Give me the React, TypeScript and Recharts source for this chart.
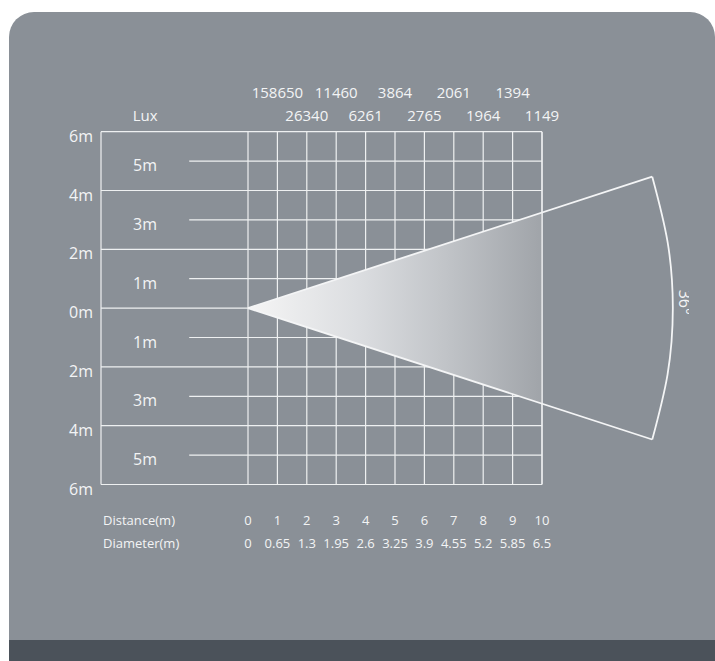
import React from 'react';
import {
  ComposedChart,
  XAxis,
  YAxis,
  Area,
  Line,
  Scatter,
  ReferenceLine,
} from 'recharts';

// ---- data ----
const distanceTicks = [0, 1, 2, 3, 4, 5, 6, 7, 8, 9, 10];
const diameterValues = [0, 0.65, 1.3, 1.95, 2.6, 3.25, 3.9, 4.55, 5.2, 5.85, 6.5];
const luxDistances = [1, 2, 3, 4, 5, 6, 7, 8, 9, 10];
const luxValues = [158650, 26340, 11460, 6261, 3864, 2765, 2061, 1964, 1394, 1149];
const heightTicks = [-6, -5, -4, -3, -2, -1, 0, 1, 2, 3, 4, 5, 6];
const evenHeights = [-6, -4, -2, 0, 2, 4, 6];
const oddHeights = [-5, -3, -1, 1, 3, 5];
const gridLeft = -5;
const oddLineStart = -2;
const gridRight = 10;
const luxTitlePos = -3.5;

const beamFill = [
  { x: 0, range: [0, 0] },
  { x: 10, range: [-3.25, 3.25] },
];
const beamUpper = [
  { x: 0, y: 0 },
  { x: 13.75, y: 4.47 },
];
const beamLower = [
  { x: 0, y: 0 },
  { x: 13.75, y: -4.47 },
];
const arcPoints = [
  { x: 13.75, y: 4.47 },
  { x: 14.27, y: 2.26 },
  { x: 14.45, y: 0 },
  { x: 14.27, y: -2.26 },
  { x: 13.75, y: -4.47 },
];
const angleLabel = [{ x: 14.85, y: 0.2, label: '36°' }];

const FONT = '"Open Sans", "Noto Sans", sans-serif';
const TXT = '#f3f4f5';
const GRID = '#eef0f1';

const YTick = (props: any) => {
  const { x, y, payload } = props;
  const v = payload.value as number;
  const label = `${Math.abs(v)}m`;
  if (v % 2 === 0) {
    return (
      <text x={x - 8} y={y + 4} textAnchor="end" dominantBaseline="central" fill={TXT} fontSize={16} fontFamily={FONT}>
        {label}
      </text>
    );
  }
  return (
    <text x={x + 32} y={y + 4} textAnchor="start" dominantBaseline="central" fill={TXT} fontSize={16} fontFamily={FONT}>
      {label}
    </text>
  );
};

const TopTick = (props: any) => {
  const { x, y, payload } = props;
  const v = payload.value as number;
  if (v === luxTitlePos) {
    return (
      <text x={x} y={y - 16.5} textAnchor="middle" dominantBaseline="central" fill={TXT} fontSize={15} fontFamily={FONT}>
        Lux
      </text>
    );
  }
  const idx = luxDistances.indexOf(v);
  const dy = v % 2 === 1 ? -40 : -16.5;
  return (
    <text x={x} y={y + dy} textAnchor="middle" dominantBaseline="central" fill={TXT} fontSize={15} fontFamily={FONT}>
      {String(luxValues[idx])}
    </text>
  );
};

const BottomTick = (props: any) => {
  const { x, y, payload } = props;
  const v = payload.value as number;
  if (v === gridLeft) {
    return (
      <g>
        <text x={x + 2} y={y + 35.5} textAnchor="start" dominantBaseline="central" fill={TXT} fontSize={13} fontFamily={FONT}>
          Distance(m)
        </text>
        <text x={x + 2} y={y + 58} textAnchor="start" dominantBaseline="central" fill={TXT} fontSize={13} fontFamily={FONT}>
          Diameter(m)
        </text>
      </g>
    );
  }
  const idx = distanceTicks.indexOf(v);
  return (
    <g>
      <text x={x} y={y + 35.5} textAnchor="middle" dominantBaseline="central" fill={TXT} fontSize={13} fontFamily={FONT}>
        {String(v)}
      </text>
      <text x={x} y={y + 58} textAnchor="middle" dominantBaseline="central" fill={TXT} fontSize={13} fontFamily={FONT}>
        {String(diameterValues[idx])}
      </text>
    </g>
  );
};

const AngleShape = (props: any) => {
  const { cx, cy, payload } = props;
  return (
    <text
      x={cx}
      y={cy}
      textAnchor="middle"
      dominantBaseline="central"
      fill={TXT}
      fontSize={16}
      fontFamily={FONT}
      transform={`rotate(90, ${cx}, ${cy})`}
    >
      {payload.label}
    </text>
  );
};

export default function App() {
  const refProps: any = { zIndex: 50 };
  const areaProps: any = { zIndex: 300 };
  const topProps: any = { zIndex: 450 };
  return (
    <div style={{ position: 'absolute', left: 0, top: 0, width: 715, height: 661, overflow: 'hidden', background: '#ffffff' }}>
      <div
        style={{
          position: 'absolute',
          left: 9,
          top: 12,
          width: 706,
          height: 649,
          background: '#8a9097',
          borderTopLeftRadius: 25,
          borderTopRightRadius: 25,
        }}
      />
      <div style={{ position: 'absolute', left: 9, top: 640, width: 706, height: 21, background: '#4b525a' }} />
      <div style={{ position: 'absolute', left: 0, top: 0 }}>
        <ComposedChart width={715} height={661} margin={{ top: 71.7, right: 26, bottom: 96.5, left: 41 }}>
          <defs>
            <linearGradient id="beamGrad" x1="0" y1="0" x2="1" y2="0">
              <stop offset="0%" stopColor="#f5f5f5" />
              <stop offset="38%" stopColor="#dbdde0" />
              <stop offset="67%" stopColor="#c1c4c8" />
              <stop offset="100%" stopColor="#a0a4a9" />
            </linearGradient>
          </defs>
          <XAxis
            xAxisId="b"
            type="number"
            dataKey="x"
            domain={[-5, 15]}
            ticks={[gridLeft, ...distanceTicks]}
            interval={0}
            orientation="bottom"
            height={80}
            axisLine={false}
            tickLine={false}
            tickSize={0}
            tickMargin={0}
            tick={<BottomTick />}
            allowDataOverflow
          />
          <XAxis
            xAxisId="t"
            type="number"
            dataKey="x"
            domain={[-5, 15]}
            ticks={[luxTitlePos, ...luxDistances]}
            interval={0}
            orientation="top"
            height={60}
            axisLine={false}
            tickLine={false}
            tickSize={0}
            tickMargin={0}
            tick={<TopTick />}
            allowDataOverflow
          />
          <YAxis
            type="number"
            domain={[-6, 6]}
            ticks={heightTicks}
            interval={0}
            width={60}
            axisLine={false}
            tickLine={false}
            tickSize={0}
            tickMargin={0}
            tick={<YTick />}
            allowDataOverflow
          />
          {evenHeights.map((h) => (
            <ReferenceLine
              key={`e${h}`}
              xAxisId="b"
              segment={[
                { x: gridLeft, y: h },
                { x: gridRight, y: h },
              ]}
              stroke={GRID}
              strokeWidth={1.2}
              {...refProps}
            />
          ))}
          {oddHeights.map((h) => (
            <ReferenceLine
              key={`o${h}`}
              xAxisId="b"
              segment={[
                { x: oddLineStart, y: h },
                { x: gridRight, y: h },
              ]}
              stroke={GRID}
              strokeWidth={1.2}
              {...refProps}
            />
          ))}
          {[gridLeft, ...distanceTicks].map((d) => (
            <ReferenceLine
              key={`v${d}`}
              xAxisId="b"
              segment={[
                { x: d, y: -6 },
                { x: d, y: 6 },
              ]}
              stroke={GRID}
              strokeWidth={1.2}
              {...refProps}
            />
          ))}
          <Area
            xAxisId="b"
            data={beamFill}
            dataKey="range"
            type="linear"
            stroke="none"
            fill="url(#beamGrad)"
            fillOpacity={1}
            isAnimationActive={false}
            activeDot={false}
            dot={false}
            {...areaProps}
          />
          <Line xAxisId="b" data={beamUpper} dataKey="y" type="linear" stroke="#f4f5f6" strokeWidth={1.8} dot={false} activeDot={false} isAnimationActive={false} />
          <Line xAxisId="b" data={beamLower} dataKey="y" type="linear" stroke="#f4f5f6" strokeWidth={1.8} dot={false} activeDot={false} isAnimationActive={false} />
          <Line xAxisId="b" data={arcPoints} dataKey="y" type="natural" stroke="#f4f5f6" strokeWidth={1.8} dot={false} activeDot={false} isAnimationActive={false} />
          <Line
            xAxisId="b"
            data={[
              { x: gridRight, y: -6 },
              { x: gridRight, y: 6 },
            ]}
            dataKey="y"
            type="linear"
            stroke={GRID}
            strokeWidth={1.2}
            dot={false}
            activeDot={false}
            isAnimationActive={false}
            {...topProps}
          />
          <Scatter xAxisId="b" data={angleLabel} dataKey="y" shape={<AngleShape />} isAnimationActive={false} />
        </ComposedChart>
      </div>
    </div>
  );
}
